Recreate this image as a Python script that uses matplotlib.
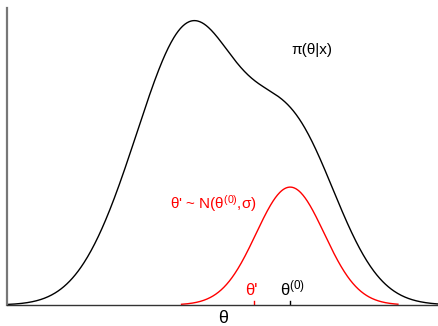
import numpy as np
import matplotlib
matplotlib.use("Agg")
import matplotlib.pyplot as plt

plt.rcParams['font.family'] = ['Liberation Sans', 'DejaVu Sans']
plt.rcParams['mathtext.fontset'] = 'custom'
plt.rcParams['mathtext.rm'] = 'Liberation Sans'
plt.rcParams['mathtext.it'] = 'Liberation Sans:italic'

# posterior drawn as a mixture of three gaussian bumps
post_means = [4.29, 2.85, 6.57]
post_sds = [1.04, 0.93, 1.07]
post_heights = [0.84, 0.185, 0.59]

# proposal around the current value
theta0 = 6.57
theta_prop = 5.73
prop_sd = 0.79
prop_height = 0.397
prop_range = [4.05, 9.07]

x = np.linspace(0, 10, 600)
post = np.zeros_like(x)
for m, s, h in zip(post_means, post_sds, post_heights):
    post += h * np.exp(-(x - m) ** 2 / (2 * s ** 2))

xp = np.linspace(prop_range[0], prop_range[1], 400)
prop = prop_height * np.exp(-(xp - theta0) ** 2 / (2 * prop_sd ** 2))

fig = plt.figure(figsize=(4.38, 3.26), dpi=100)
ax = fig.add_axes([7 / 438, 21 / 326, 431 / 438, 297 / 326])

ax.plot(x, post, color='black', lw=1)
ax.plot(xp, prop, color='red', lw=1)

ax.set_xlim(0, 10)
ax.set_ylim(0, 1)
ax.spines['top'].set_visible(False)
ax.spines['right'].set_visible(False)
ax.spines['left'].set_color('#777777')
ax.spines['left'].set_linewidth(1.6)
ax.spines['bottom'].set_color('#333333')
ax.spines['bottom'].set_linewidth(1)
ax.set_xticks([])
ax.set_yticks([])

# small ticks for the two points
ax.plot([theta_prop, theta_prop], [0, 0.013], color='red', lw=1)
ax.plot([theta0, theta0], [0, 0.013], color='black', lw=1)

ax.text(theta_prop - 0.06, 0.022, "θ'", color='red', fontsize=12, ha='center', va='bottom')
ax.text(theta0 + 0.05, 0.022, r"θ$^{\mathrm{(0)}}$", color='black', fontsize=12, ha='center', va='bottom')
ax.text(7.07, 0.859, "π(θ|x)", color='black', fontsize=11, ha='center', va='center')
ax.text(4.79, 0.343, r"θ' ~ N(θ$^{\mathrm{(0)}}$,σ)", color='red', fontsize=11, ha='center', va='center')

fig.text(223 / 438, 1 - 310 / 326, "θ", fontsize=13, ha='center', va='top')

fig.savefig('out.png', dpi=100)
